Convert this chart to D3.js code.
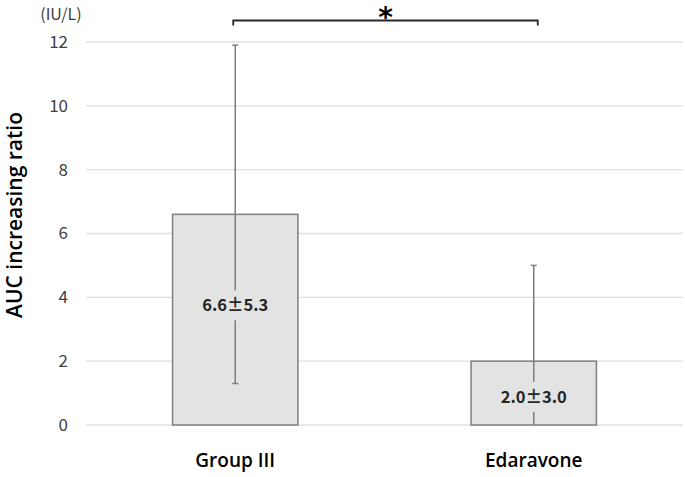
<!DOCTYPE html>
<html><head><meta charset="utf-8">
<script src="https://cdn.jsdelivr.net/npm/d3@7/dist/d3.min.js"></script>
<style>body{margin:0;background:#fff}svg{display:block}</style>
</head><body>
<svg id="c" width="685" height="477"></svg>
<script>
const categories = ["Group III", "Edaravone"];
const means = [6.6, 2.0];
const sds = [5.3, 3.0];
const labels = ["6.6\u00B15.3", "2.0\u00B13.0"];
const labelValues = [3.75, 0.88];
const yTicks = [0, 2, 4, 6, 8, 10, 12];
const unit = "(IU/L)";
const yTitle = "AUC increasing ratio";
const sigMark = "*";

(function () {
const svg = d3.select("#c");
const mL = 86, mR = 683, mT = 42, mB = 425;
const x = d3.scaleBand().domain(categories).range([mL, mR]).padding(0);
const y = d3.scaleLinear().domain([0, 12]).range([mB, mT]);
const barW = x.bandwidth() * 0.42;
const cx = c => x(c) + x.bandwidth() / 2;
const font = "'Noto Sans CJK JP','Noto Sans',sans-serif";
const font2 = "'Open Sans','Noto Sans',sans-serif";

svg.append("g").selectAll("line").data(yTicks).join("line")
  .attr("x1", mL).attr("x2", mR)
  .attr("y1", d => y(d)).attr("y2", d => y(d))
  .attr("stroke", "#e0e0e0").attr("stroke-width", 1.3);

const ax = svg.append("g").attr("transform", `translate(${mL - 18},0)`)
  .call(d3.axisLeft(y).tickValues(yTicks).tickSize(0).tickPadding(0));
ax.select(".domain").remove();
ax.selectAll("text").attr("font-family", font).attr("font-size", 17)
  .attr("font-weight", 400).attr("fill", "#404040");

svg.append("text").attr("x", 61).attr("y", 20).attr("text-anchor", "middle")
  .attr("font-family", font).attr("font-size", 16).attr("font-weight", 400)
  .attr("fill", "#404040").text(unit);

svg.append("text").attr("transform", `translate(22,215) rotate(-90)`)
  .attr("text-anchor", "middle").attr("font-family", font2).attr("font-size", 21)
  .attr("font-weight", 600).attr("fill", "#000").text(yTitle);

svg.append("g").selectAll("rect").data(categories).join("rect")
  .attr("x", d => cx(d) - barW / 2).attr("width", barW)
  .attr("y", (d, i) => y(means[i])).attr("height", (d, i) => y(0) - y(means[i]))
  .attr("fill", "#e3e3e3").attr("stroke", "#7f7f7f").attr("stroke-width", 1.5);

const eg = svg.append("g").attr("stroke", "#7f7f7f").attr("stroke-width", 1.5);
categories.forEach((c, i) => {
  const hi = means[i] + sds[i], lo = Math.max(0, means[i] - sds[i]);
  eg.append("line").attr("x1", cx(c)).attr("x2", cx(c)).attr("y1", y(hi)).attr("y2", y(lo));
  eg.append("line").attr("x1", cx(c) - 3).attr("x2", cx(c) + 3).attr("y1", y(hi)).attr("y2", y(hi));
  if (lo > 0) eg.append("line").attr("x1", cx(c) - 3).attr("x2", cx(c) + 3).attr("y1", y(lo)).attr("y2", y(lo));
});

categories.forEach((c, i) => {
  const yc = y(labelValues[i]);
  svg.append("rect").attr("x", cx(c) - 38).attr("width", 76)
    .attr("y", yc - 15).attr("height", 30).attr("fill", "#e3e3e3");
  svg.append("text").attr("x", cx(c)).attr("y", yc).attr("dy", "0.36em")
    .attr("text-anchor", "middle").attr("font-family", font).attr("font-size", 16.5)
    .attr("font-weight", "bold").attr("fill", "#262626").text(labels[i]);
});

svg.append("g").selectAll("text").data(categories).join("text")
  .attr("x", d => cx(d)).attr("y", 467).attr("text-anchor", "middle")
  .attr("font-family", font2).attr("font-size", 19).attr("font-weight", 600)
  .attr("fill", "#000").text(d => d);

const x1 = cx(categories[0]) - 2, x2 = cx(categories[1]) + 4, by = 20.5;
svg.append("path").attr("d", `M${x1},${by + 5}V${by}H${x2}V${by + 5}`)
  .attr("fill", "none").attr("stroke", "#262626").attr("stroke-width", 1.8);
svg.append("text").attr("x", (x1 + x2) / 2).attr("y", 27).attr("text-anchor", "middle")
  .attr("font-family", "'DejaVu Sans',sans-serif").attr("font-size", 28)
  .attr("font-weight", "bold").attr("fill", "#000").text(sigMark);
})();
</script>
</body></html>
